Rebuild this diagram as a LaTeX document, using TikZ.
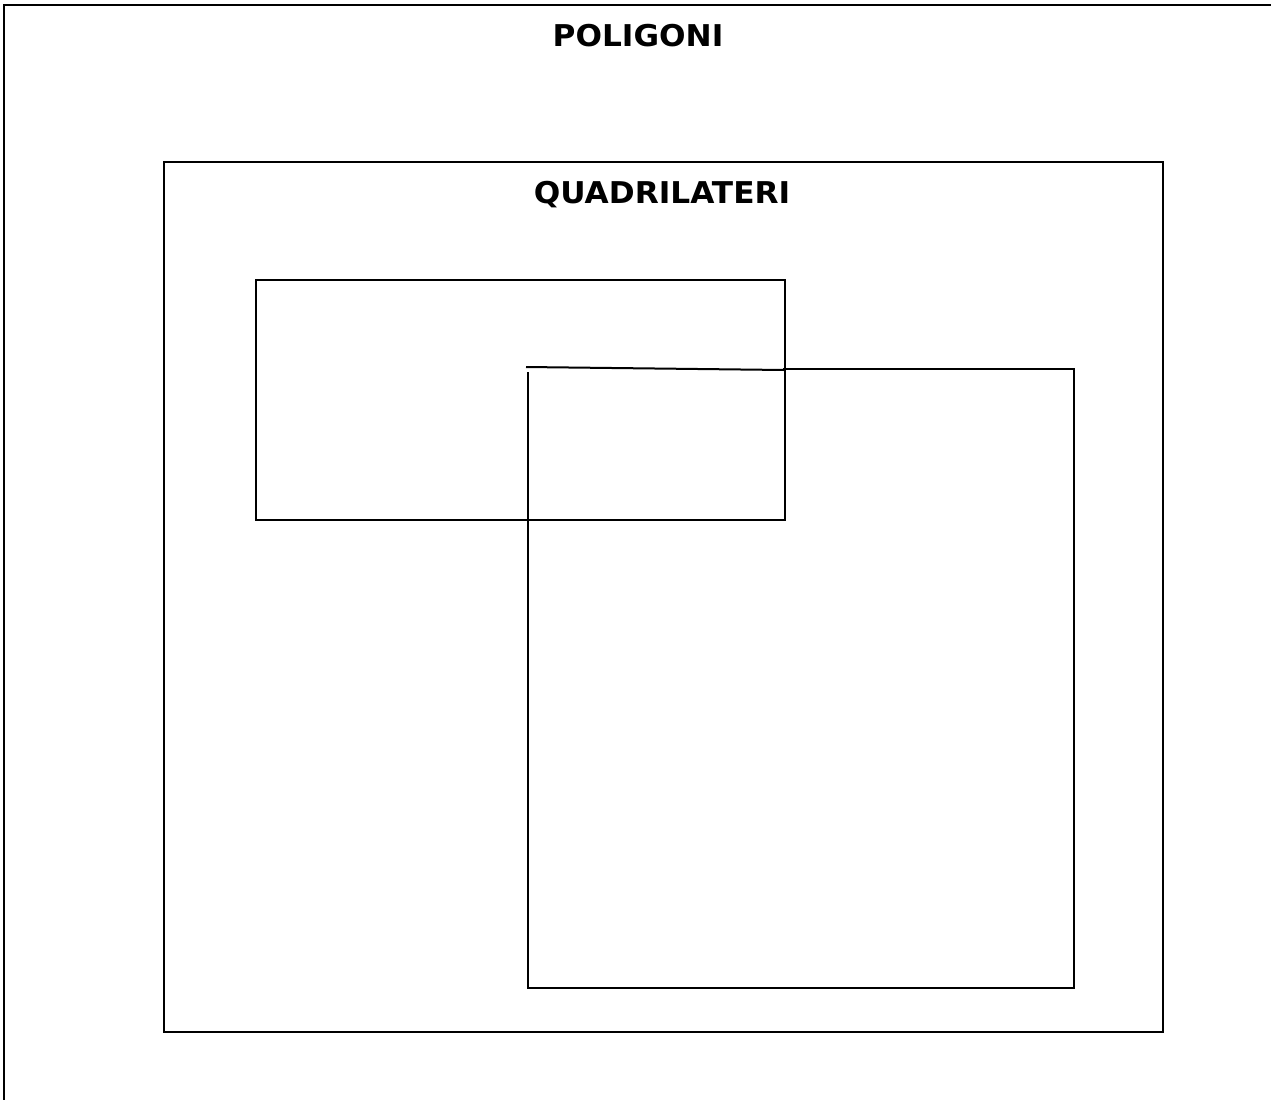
\documentclass[tikz,border=0pt]{standalone}
\usepackage{fontspec}
\setmainfont{DejaVu Sans}
\begin{document}
\begin{tikzpicture}[x=1pt,y=-1pt,
  ln/.style={line width=2pt, line cap=butt},
  ttl/.style={font=\bfseries\fontsize{30}{35}\selectfont, inner sep=0pt, anchor=base}]
\useasboundingbox (0,0) rectangle (1271,1100);
\fill[white] (0,0) rectangle (1271,1100);
% outer frame (only top and left visible)
\coordinate (otl) at (4,5);
\coordinate (otr) at (1271,5);
\coordinate (obl) at (4,1100);
\draw[ln] (otr) -- (otl) -- (obl);
\node[ttl] (pol) at (638,46) {\scalebox{1.04}[1]{POLIGONI}};
% quadrilateri box
\draw[ln] (164,162) rectangle (1163,1032);
\node[ttl] (quad) at (662,203) {\scalebox{1.04}[1]{QUADRILATERI}};
% rectangle
\draw[ln] (256,280) rectangle (785,520);
% square (hand-drawn)
\coordinate (s1) at (526,367);
\coordinate (s2) at (784,370);
\coordinate (s3) at (1074,369);
\coordinate (s4) at (1074,988);
\coordinate (s5) at (528,988);
\coordinate (s6) at (528,372);
\draw[ln] (s1) -- (s2);
\draw[ln] (783,369) -- (s3) -- (s4) -- (s5) -- (s6);
\end{tikzpicture}
\end{document}
